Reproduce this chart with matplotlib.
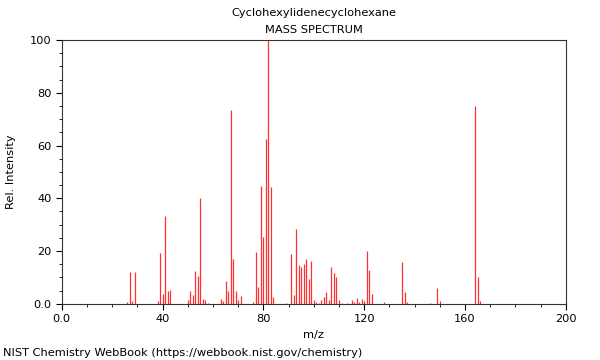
# Cyclohexylidenecyclohexane mass spectrum (NIST style stick plot)
import numpy as np
import matplotlib
matplotlib.use("Agg")
import matplotlib.pyplot as plt
from matplotlib.ticker import MultipleLocator

# m/z and relative intensity
mz = [26, 27, 28, 29, 38, 39, 40, 41, 42, 43, 50, 51, 52, 53, 54, 55, 56, 57,
      58, 63, 64, 65, 66, 67, 68, 69, 70, 71, 76, 77, 78, 79, 80, 81, 82, 83,
      84, 89, 91, 92, 93, 94, 95, 96, 97, 98, 99, 100, 101, 102, 103, 104,
      105, 106, 107, 108, 109, 110, 111, 113, 115, 116, 117, 118, 119, 120,
      121, 122, 123, 128, 135, 136, 137, 146, 149, 150, 164, 165, 166]
intensity = [0.6, 12.1, 1.0, 12.0, 1.2, 19.3, 3.8, 33.3, 4.9, 5.3, 1.5, 5.0,
             3.4, 12.5, 10.5, 40.0, 1.9, 1.6, 0.5, 1.8, 1.2, 8.8, 4.9, 73.5,
             17.0, 5.0, 1.3, 2.8, 0.8, 19.8, 6.3, 44.8, 25.5, 62.3, 100.0,
             44.2, 2.5, 0.5, 19.0, 3.4, 28.3, 14.8, 14.0, 15.2, 17.0, 9.4,
             16.3, 1.5, 0.8, 0.5, 1.5, 2.6, 4.5, 1.5, 14.0, 11.6, 10.2, 1.5,
             0.5, 0.5, 1.5, 0.7, 2.1, 0.6, 1.9, 1.0, 20.0, 13.0, 3.8, 0.8,
             15.9, 4.5, 0.8, 0.3, 6.0, 1.0, 75.0, 10.0, 1.0]

xtick_labels = ['0.0', '40', '80', '120', '160', '200']
ytick_labels = ['0.0', '20', '40', '60', '80', '100']

plt.rcParams['font.family'] = 'DejaVu Sans'
plt.rcParams['font.size'] = 8.2

fig = plt.figure(figsize=(6, 3.6), dpi=100)
ax = fig.add_axes([0.103, 0.156, 0.84, 0.733])

ax.vlines(mz, 0, intensity, color='#ff3030', linewidth=0.9)

ax.set_xlim(0, 200)
ax.set_ylim(0, 100)
ax.set_xticks([0, 40, 80, 120, 160, 200])
ax.set_xticklabels(xtick_labels)
ax.set_yticks([0, 20, 40, 60, 80, 100])
ax.set_yticklabels(ytick_labels)
ax.xaxis.set_minor_locator(MultipleLocator(10))
ax.yaxis.set_minor_locator(MultipleLocator(5))
ax.tick_params(which='major', length=4, width=0.8, labelsize=8.2)
ax.tick_params(which='minor', length=2, width=0.6)
for s in ax.spines.values():
    s.set_linewidth(0.8)
    s.set_color('#333333')

ax.set_xlabel('m/z')
ax.set_ylabel('Rel. Intensity')
ax.yaxis.set_label_coords(-0.091, 0.5)

fig.text(0.523, 0.963, 'Cyclohexylidenecyclohexane', ha='center', va='center')
fig.text(0.523, 0.918, 'MASS SPECTRUM', ha='center', va='center')
fig.text(0.005, 0.02, 'NIST Chemistry WebBook (https://webbook.nist.gov/chemistry)',
         ha='left', va='center')

fig.savefig('out.png', dpi=100)
